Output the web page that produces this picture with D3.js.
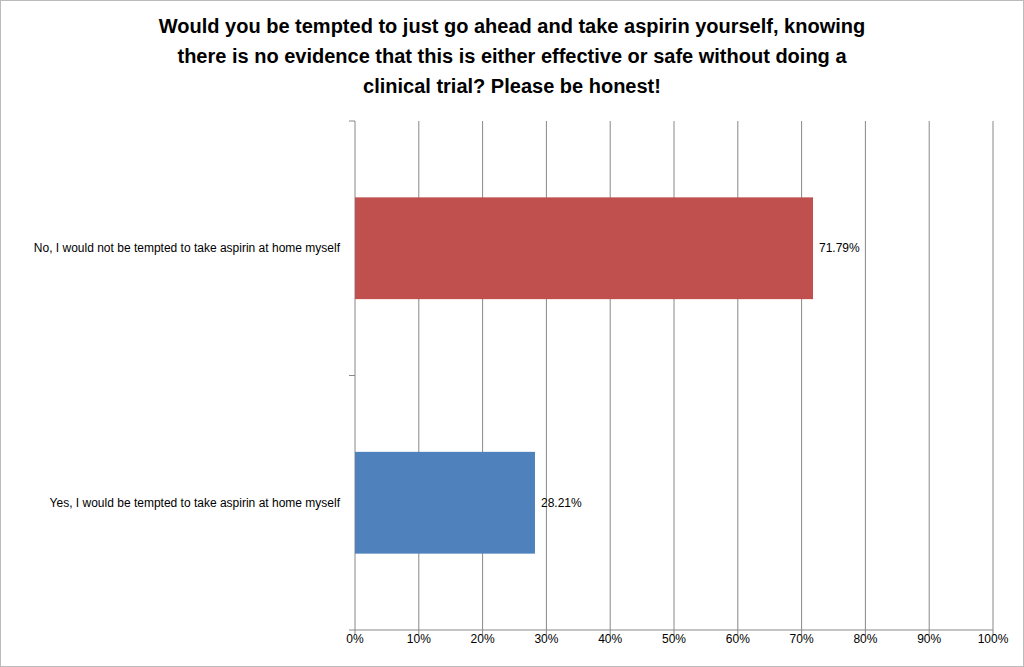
<!DOCTYPE html>
<html><head><meta charset="utf-8">
<script src="https://cdn.jsdelivr.net/npm/d3@7"></script>
<style>body{margin:0;background:#fff}svg{display:block}</style>
</head><body>
<svg id="c" width="1024" height="667"></svg>
<script>
const categories = ["No, I would not be tempted to take aspirin at home myself", "Yes, I would be tempted to take aspirin at home myself"];
const values = [71.79, 28.21];
const colors = ["#C0504D", "#4F81BD"];
const ticks = [0,10,20,30,40,50,60,70,80,90,100];
const titleLines = ["Would you be tempted to just go ahead and take aspirin yourself, knowing","there is no evidence that this is either effective or safe without doing a","clinical trial? Please be honest!"];

const svg = d3.select("#c");
svg.append("rect").attr("x",0.5).attr("y",0.5).attr("width",1023).attr("height",666).attr("fill","none").attr("stroke","#bbb");
const x = d3.scaleLinear().domain([0,100]).range([355,993]);
const y = d3.scaleBand().domain(categories).range([121,630]).paddingInner(0.6).paddingOuter(0.3);
const font = "Liberation Sans, Arial, sans-serif";

svg.selectAll(".g").data(ticks.slice(1)).join("line")
  .attr("x1",d=>x(d)).attr("x2",d=>x(d)).attr("y1",121).attr("y2",630).attr("stroke","#888");
svg.append("line").attr("x1",355).attr("x2",355).attr("y1",121).attr("y2",630).attr("stroke","#888");
svg.append("line").attr("x1",355).attr("x2",993).attr("y1",630).attr("y2",630).attr("stroke","#888");
[121,375.5,630].forEach(t=>svg.append("line").attr("x1",349).attr("x2",355).attr("y1",t).attr("y2",t).attr("stroke","#888"));
ticks.forEach(t=>svg.append("line").attr("x1",x(t)).attr("x2",x(t)).attr("y1",630).attr("y2",635).attr("stroke","#888"));
svg.selectAll(".tl").data(ticks).join("text").attr("x",d=>x(d)).attr("y",643)
  .attr("text-anchor","middle").attr("font-family",font).attr("font-size",12).text(d=>d+"%");

svg.selectAll(".bar").data(categories).join("rect")
  .attr("x",x(0)).attr("y",d=>y(d)).attr("height",y.bandwidth())
  .attr("width",(d,i)=>x(values[i])-x(0)).attr("fill",(d,i)=>colors[i]);
svg.selectAll(".v").data(categories).join("text")
  .attr("x",(d,i)=>x(values[i])+6).attr("y",d=>y(d)+y.bandwidth()/2+4)
  .attr("font-family",font).attr("font-size",12).text((d,i)=>values[i].toFixed(2)+"%");
svg.selectAll(".cl").data(categories).join("text")
  .attr("x",340).attr("y",d=>y(d)+y.bandwidth()/2+4).attr("text-anchor","end")
  .attr("font-family",font).attr("font-size",12).text(d=>d);

svg.selectAll(".t").data(titleLines).join("text")
  .attr("x",512).attr("y",(d,i)=>33+i*30).attr("text-anchor","middle")
  .attr("font-family",font).attr("font-weight","bold").attr("font-size",20).text(d=>d);
</script>
</body></html>
